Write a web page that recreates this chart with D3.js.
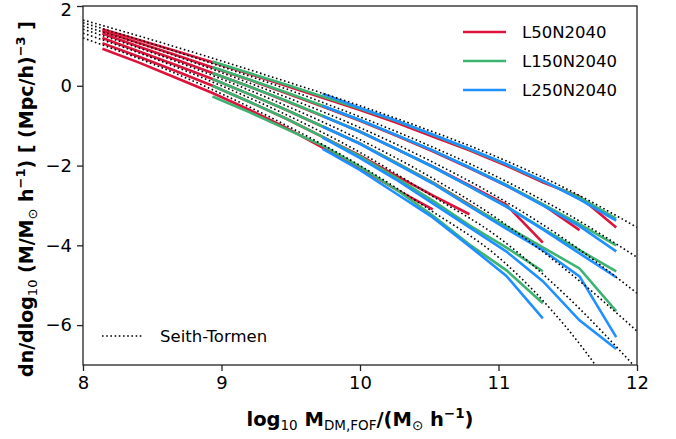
<!DOCTYPE html>
<html>
<head>
<meta charset="utf-8">
<script src="https://cdn.jsdelivr.net/npm/d3@7"></script>
<style>
  body { margin: 0; background: #fff; }
  svg { font-family: "DejaVu Sans", sans-serif; }
</style>
</head>
<body>
<div id="chart"></div>
<script>
// Seith-Tormen curves, one per redshift (top = lowest z)
const stMass = [8.0, 8.5, 9.0, 9.5, 10.0, 10.5, 11.0, 11.5, 12.0];
const stZ0 = [1.65, 1.15, 0.62, 0.07, -0.50, -1.12, -1.80, -2.60, -3.55];
const stZ1 = [1.58, 1.05, 0.48, -0.12, -0.78, -1.50, -2.30, -3.22, -4.30];
const stZ2 = [1.50, 0.95, 0.33, -0.33, -1.05, -1.87, -2.80, -3.90, -5.20];
const stZ3 = [1.42, 0.83, 0.17, -0.55, -1.35, -2.27, -3.35, -4.65, -6.15];
const stZ4 = [1.32, 0.70, 0.00, -0.78, -1.67, -2.72, -3.80, -5.30, -7.10];
const stZ5 = [1.20, 0.55, -0.20, -1.05, -2.00, -3.10, -4.30, -6.10, -8.50];

// simulation mass bins (log10 M)
const binMass = [8.14, 8.405, 8.67, 8.935, 9.2, 9.465, 9.73, 9.995, 10.26, 10.525, 10.79, 11.055, 11.32, 11.585, 11.85];

// L50N2040 (starts at first bin)
const l50Z0 = [1.42, 1.15, 0.87, 0.59, 0.30, 0.00, -0.30, -0.60, -0.92, -1.27, -1.62, -2.00, -2.42, -2.78, -3.55];
const l50Z1 = [1.37, 1.07, 0.77, 0.46, 0.15, -0.18, -0.52, -0.87, -1.25, -1.64, -2.06, -2.50, -2.98, -3.62];
const l50Z2 = [1.31, 0.98, 0.66, 0.32, -0.02, -0.38, -0.76, -1.14, -1.58, -2.02, -2.50, -2.98, -3.93];
const l50Z3 = [1.20, 0.86, 0.52, 0.17, -0.21, -0.60, -1.02, -1.44, -1.93, -2.42, -2.98, -3.55];
const l50Z4 = [1.07, 0.73, 0.37, 0.00, -0.40, -0.82, -1.28, -1.74, -2.25, -2.75, -3.22];
const l50Z5 = [0.93, 0.58, 0.20, -0.18, -0.60, -1.05, -1.55, -2.05, -2.60, -3.10];

// L150N2040 (starts at 4th bin)
const l150Z0 = [0.61, 0.32, 0.03, -0.27, -0.57, -0.88, -1.23, -1.59, -1.97, -2.39, -2.80, -3.33];
const l150Z1 = [0.47, 0.16, -0.16, -0.50, -0.85, -1.23, -1.62, -2.04, -2.48, -2.97, -3.47, -4.00];
const l150Z2 = [0.32, -0.02, -0.37, -0.75, -1.14, -1.58, -2.03, -2.52, -3.02, -3.58, -4.12, -4.65];
const l150Z3 = [0.17, -0.21, -0.60, -1.02, -1.44, -1.93, -2.43, -3.00, -3.52, -4.05, -4.58, -5.65];
const l150Z4 = [0.00, -0.40, -0.82, -1.28, -1.76, -2.30, -2.88, -3.50, -4.05, -4.65];
const l150Z5 = [-0.27, -0.66, -1.08, -1.50, -2.02, -2.60, -3.25, -3.98, -4.62, -5.45];

// L250N2040 (starts at 7th bin)
const l250Z0 = [-0.20, -0.55, -0.87, -1.22, -1.58, -1.96, -2.38, -2.85, -3.38];
const l250Z1 = [-0.50, -0.85, -1.23, -1.62, -2.05, -2.50, -3.00, -3.52, -4.15];
const l250Z2 = [-0.76, -1.15, -1.58, -2.03, -2.52, -3.03, -3.60, -4.20, -4.80];
const l250Z3 = [-1.02, -1.45, -1.95, -2.45, -3.02, -3.58, -4.12, -4.78, -6.30];
const l250Z4 = [-1.30, -1.80, -2.35, -2.95, -3.55, -4.15, -4.90, -5.88, -6.60];
const l250Z5 = [-1.58, -2.10, -2.70, -3.30, -4.02, -4.76, -5.83];

const xTicks = [8, 9, 10, 11, 12];
const yTicks = [-6, -4, -2, 0, 2];

const width = 676, height = 439;
const margin = { top: 6, right: 39, bottom: 74, left: 83 };

const x = d3.scaleLinear().domain([8, 12]).range([margin.left, width - margin.right]);
const y = d3.scaleLinear().domain([-7, 2]).range([height - margin.bottom, margin.top]);

const svg = d3.select('#chart').append('svg')
  .attr('width', width)
  .attr('height', height);

svg.append('defs').append('clipPath').attr('id', 'plot-clip')
  .append('rect')
  .attr('x', margin.left).attr('y', margin.top)
  .attr('width', x(12) - x(8)).attr('height', y(-7) - y(2));

const plot = svg.append('g').attr('clip-path', 'url(#plot-clip)');

const line = d3.line()
  .x(d => x(d[0]))
  .y(d => y(d[1]));

const stLine = d3.line().curve(d3.curveMonotoneX).x(d => x(d[0])).y(d => y(d[1]));

// simulation lines
const sims = [
  { color: '#dc143c', start: 0, series: [l50Z0, l50Z1, l50Z2, l50Z3, l50Z4, l50Z5] },
  { color: '#3cb371', start: 3, series: [l150Z0, l150Z1, l150Z2, l150Z3, l150Z4, l150Z5] },
  { color: '#1e90ff', start: 6, series: [l250Z0, l250Z1, l250Z2, l250Z3, l250Z4, l250Z5] }
];

sims.forEach(s => {
  s.series.forEach(vals => {
    const pts = vals.map((v, i) => [binMass[s.start + i], v]);
    plot.append('path')
      .attr('d', line(pts))
      .attr('fill', 'none')
      .attr('stroke', s.color)
      .attr('stroke-width', 2.6);
  });
});

// Seith-Tormen curves
[stZ0, stZ1, stZ2, stZ3, stZ4, stZ5].forEach(vals => {
  const pts = vals.map((v, i) => [stMass[i], v]);
  plot.append('path')
    .attr('d', stLine(pts))
    .attr('fill', 'none')
    .attr('stroke', '#000')
    .attr('stroke-width', 1.6)
    .attr('stroke-dasharray', '1.6,2.6');
});

// frame
svg.append('rect')
  .attr('x', margin.left).attr('y', margin.top)
  .attr('width', x(12) - x(8)).attr('height', y(-7) - y(2))
  .attr('fill', 'none').attr('stroke', '#222').attr('stroke-width', 1.3);

// axes
const xAxis = svg.append('g')
  .attr('transform', `translate(0,${y(-7)})`)
  .call(d3.axisBottom(x).tickValues(xTicks).tickSize(6).tickPadding(5).tickFormat(d3.format('d')));
const yAxis = svg.append('g')
  .attr('transform', `translate(${margin.left},0)`)
  .call(d3.axisLeft(y).tickValues(yTicks).tickSize(6).tickPadding(5).tickFormat(d => d3.format('d')(d).replace('-', '\u2212')));

[xAxis, yAxis].forEach(g => {
  g.select('.domain').remove();
  g.selectAll('.tick line').attr('stroke', '#222').attr('stroke-width', 1.3);
  g.selectAll('.tick text').attr('font-size', 18).attr('fill', '#000').attr('font-family', '"DejaVu Sans", sans-serif');
});
// keep the top label inside the picture
yAxis.selectAll('.tick text').filter(d => d === 2).attr('dy', '0.55em');

// axis labels
const xl = svg.append('text')
  .attr('x', x(10)).attr('y', 426)
  .attr('text-anchor', 'middle')
  .attr('font-size', 19.5).attr('font-weight', 'bold');
xl.append('tspan').text('log');
xl.append('tspan').attr('font-size', 13.5).attr('font-weight', 'normal').attr('dy', 4).text('10');
xl.append('tspan').attr('dy', -4).text(' M');
xl.append('tspan').attr('font-size', 13.5).attr('font-weight', 'normal').attr('dy', 4).text('DM,FOF');
xl.append('tspan').attr('dy', -4).text('/(M');
xl.append('tspan').attr('font-size', 13.5).attr('font-weight', 'normal').attr('dy', 4).text('\u2299');
xl.append('tspan').attr('dy', -4).text(' h');
xl.append('tspan').attr('font-size', 13.5).attr('dy', -8).text('\u22121');
xl.append('tspan').attr('dy', 8).text(')');

const yl = svg.append('text')
  .attr('transform', `translate(33,199) rotate(-90)`)
  .attr('text-anchor', 'middle')
  .attr('font-size', 19).attr('font-weight', 'bold');
yl.append('tspan').text('dn/dlog');
yl.append('tspan').attr('font-size', 13).attr('font-weight', 'normal').attr('dy', 4).text('10');
yl.append('tspan').attr('dy', -4).text(' (M/M');
yl.append('tspan').attr('font-size', 13).attr('font-weight', 'normal').attr('dy', 4).text('\u2299');
yl.append('tspan').attr('dy', -4).text(' h');
yl.append('tspan').attr('font-size', 13).attr('dy', -8).text('\u22121');
yl.append('tspan').attr('dy', 8).text(') [ (Mpc/h)');
yl.append('tspan').attr('font-size', 13).attr('dy', -8).text('\u22123');
yl.append('tspan').attr('dy', 8).text(' ]');

// legend (simulations)
const legendNames = ['L50N2040', 'L150N2040', 'L250N2040'];
legendNames.forEach((name, i) => {
  const ly = 32 + i * 29;
  svg.append('line')
    .attr('x1', 463).attr('x2', 506).attr('y1', ly).attr('y2', ly)
    .attr('stroke', sims[i].color).attr('stroke-width', 2.6);
  svg.append('text')
    .attr('x', 522).attr('y', ly + 6)
    .attr('font-size', 16.5).text(name);
});

// legend (Seith-Tormen)
svg.append('line')
  .attr('x1', 102).attr('x2', 143).attr('y1', 336).attr('y2', 336)
  .attr('stroke', '#000').attr('stroke-width', 1.6).attr('stroke-dasharray', '1.6,2.6');
svg.append('text')
  .attr('x', 160).attr('y', 342)
  .attr('font-size', 16.5).text('Seith-Tormen');
</script>
</body>
</html>
